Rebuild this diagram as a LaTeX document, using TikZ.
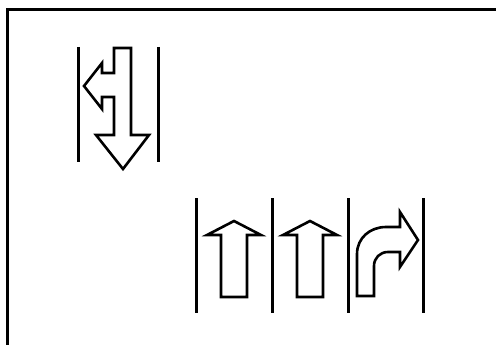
\documentclass[tikz,border=0pt]{standalone}
\begin{document}
\begin{tikzpicture}[x=1pt,y=-1pt,
    laneline/.style={line width=3pt},
    marking/.style={line width=2.6pt,line join=miter}
]
    \useasboundingbox (0,0) rectangle (496,345);
    % frame
    \draw[line width=3pt] (496,10) -- (7,10) -- (7,345);
    % upper lane
    \foreach \x in {78,158}
        \draw[laneline] (\x,47) -- (\x,162);
    \draw[marking] (114,48) -- (131,48) -- (131,135) -- (149,135) -- (123,169)
        -- (96,135) -- (114,135) -- (114,97) -- (102,97) -- (102,109) -- (84,86)
        -- (102,63) -- (102,73) -- (114,73) -- cycle;
    % lower lanes
    \foreach \x in {196,272,348,423}
        \draw[laneline] (\x,198) -- (\x,313);
    \foreach \s in {0,76}
        \draw[marking,xshift=\s] (221,297) -- (221,235) -- (207,235) -- (234,221)
            -- (261,235) -- (247,235) -- (247,297) -- cycle;
    \draw[marking] (357,296) -- (357,254) .. controls (357,238) and (370,227) .. (386,227)
        -- (400,227) -- (400,212) -- (418,240) -- (400,267) -- (400,252) -- (388,252)
        .. controls (380,252) and (374,258) .. (374,266) -- (374,296) -- cycle;
\end{tikzpicture}
\end{document}
